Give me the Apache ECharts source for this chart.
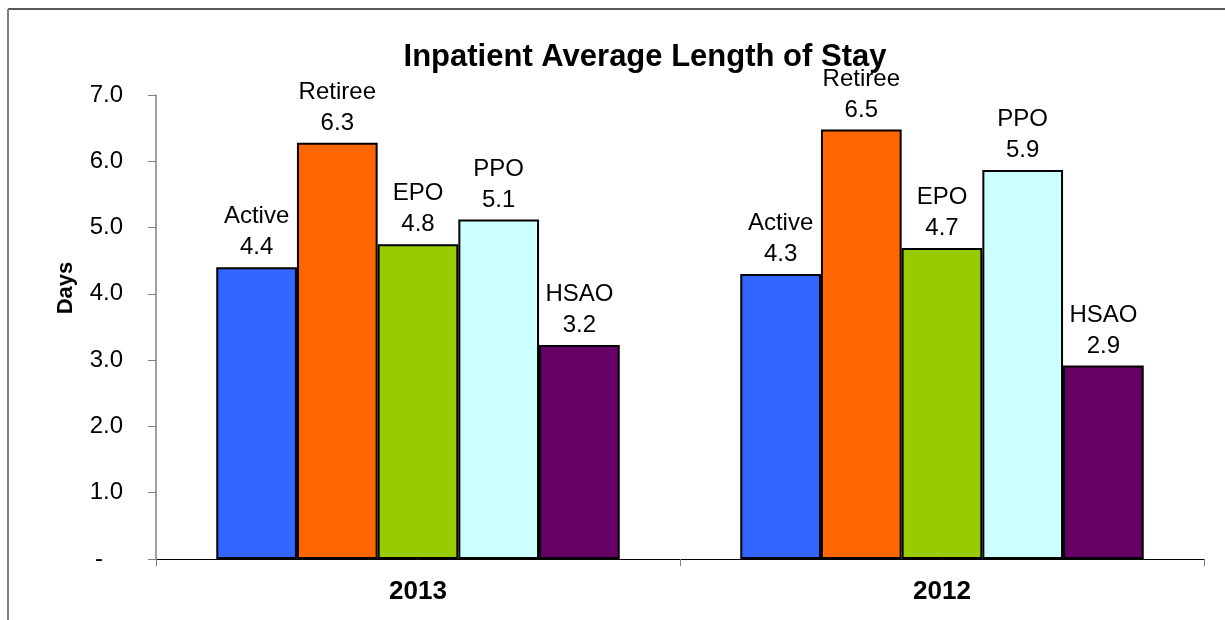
<!DOCTYPE html>
<html>
<head>
<meta charset="utf-8">
<script src="https://cdn.jsdelivr.net/npm/echarts@6/dist/echarts.min.js"></script>
<style>
  html, body { margin: 0; padding: 0; background: #fff; }
  #chart { width: 1225px; height: 620px; }
</style>
</head>
<body>
<div id="chart"></div>
<script>
// data
var years = ['2013', '2012'];
var active = [4.40, 4.30];
var retiree = [6.28, 6.48];
var epo = [4.75, 4.69];
var ppo = [5.12, 5.87];
var hsao = [3.23, 2.92];
var yTicks = [0, 1, 2, 3, 4, 5, 6, 7];

var font = 'Liberation Sans, Arial, sans-serif';

function bar(name, data, color) {
  return {
    name: name,
    type: 'bar',
    data: data,
    barGap: '0%',
    barCategoryGap: '23%',
    itemStyle: { color: color, borderColor: '#000', borderWidth: 2 },
    label: {
      show: true,
      position: 'top',
      distance: 4,
      color: '#000',
      fontFamily: font,
      fontSize: 24,
      lineHeight: 31,
      align: 'center',
      formatter: function (p) {
        return p.seriesName + '\n' + p.value.toFixed(1);
      }
    }
  };
}

var chart = echarts.init(document.getElementById('chart'));
chart.setOption({
  animation: false,
  title: {
    text: 'Inpatient Average Length of Stay',
    left: 640,
    textAlign: 'center',
    top: 37,
    textStyle: { fontFamily: font, fontSize: 31, fontWeight: 'bold', color: '#000' }
  },
  grid: { left: 156, right: 21, top: 95, bottom: 61, containLabel: false },
  xAxis: {
    type: 'category',
    data: years,
    axisLine: { lineStyle: { color: '#000', width: 1 } },
    axisTick: { show: true, length: 7, lineStyle: { color: '#808080' } },
    axisLabel: { fontFamily: font, fontSize: 26, fontWeight: 'bold', color: '#000', margin: 20 }
  },
  yAxis: {
    type: 'value',
    min: yTicks[0],
    max: yTicks[yTicks.length - 1],
    interval: 1,
    splitLine: { show: false },
    axisLine: { show: true, lineStyle: { color: '#808080', width: 1.5 } },
    axisTick: { show: true, length: 8, lineStyle: { color: '#808080' } },
    axisLabel: {
      fontFamily: font,
      fontSize: 24,
      color: '#000',
      margin: 33,
      formatter: function (v) { return v === 0 ? '-   ' : v.toFixed(1); }
    }
  },
  graphic: [
    { type: 'line', shape: { x1: 8, y1: 9, x2: 1225, y2: 9 }, style: { stroke: '#222', lineWidth: 1.5 } },
    { type: 'line', shape: { x1: 8, y1: 9, x2: 8, y2: 620 }, style: { stroke: '#808080', lineWidth: 2 } },
    {
      type: 'text',
      x: 66,
      y: 288,
      rotation: Math.PI / 2,
      style: {
        text: 'Days',
        font: 'bold 22px Liberation Sans, Arial, sans-serif',
        fill: '#000',
        align: 'center',
        verticalAlign: 'middle'
      }
    }
  ],
  series: [
    bar('Active', active, '#3366FF'),
    bar('Retiree', retiree, '#FF6600'),
    bar('EPO', epo, '#99CC00'),
    bar('PPO', ppo, '#CCFFFF'),
    bar('HSAO', hsao, '#660066')
  ]
});
</script>
</body>
</html>
